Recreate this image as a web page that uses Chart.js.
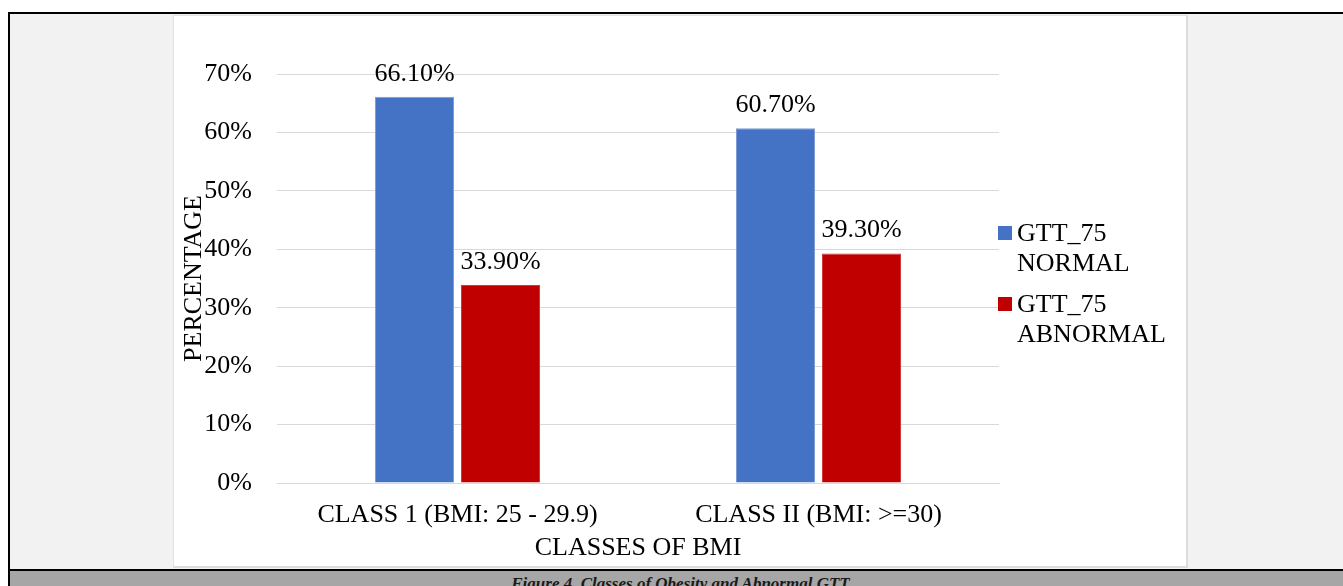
<!DOCTYPE html>
<html>
<head>
<meta charset="utf-8">
<script src="https://cdn.jsdelivr.net/npm/chart.js@4.4.0/dist/chart.umd.min.js"></script>
<style>
  html, body { margin: 0; padding: 0; background: #ffffff; }
  body { width: 1343px; height: 586px; position: relative; overflow: hidden; }
  .frame { position: absolute; left: 8px; top: 12px; right: 0; bottom: 0;
           border-left: 2px solid #000; border-top: 2px solid #000; background: #f2f2f2; }
  .rule { position: absolute; left: 8px; right: 0; top: 569px; height: 2px; background: #000; }
  .band { position: absolute; left: 10px; right: 0; top: 571px; bottom: 0; background: #a6a6a6; }
  .caption { position: absolute; left: 173px; width: 1015px; top: 574px; line-height: 17px;
             text-align: center; font: italic bold 17px "Liberation Serif", serif; color: #1a1a1a;
             white-space: nowrap; }
  .box { position: absolute; left: 173px; top: 15px; width: 1012px; height: 550px; background: #fff;
         border-left: 1px solid #e2e2e2; border-top: 1px solid #e2e2e2;
         border-right: 2px solid #dcdcdc; border-bottom: 2px solid #dcdcdc; }
  #chart { position: absolute; left: 175px; top: 16px; }
</style>
</head>
<body>
<div class="frame"></div>
<div class="rule"></div>
<div class="band"></div>
<div class="caption">Figure 4. Classes of Obesity and Abnormal GTT</div>
<div class="box"></div>
<canvas id="chart" width="1011" height="549"></canvas>
<script>
// BMI classes and the share of each GTT_75 outcome (percent)
const categories = ['CLASS 1 (BMI: 25 - 29.9)', 'CLASS II (BMI: >=30)'];
const normalLabel = ['GTT_75', 'NORMAL'];
const abnormalLabel = ['GTT_75', 'ABNORMAL'];
const normalValues = [66.1, 60.7];
const abnormalValues = [33.9, 39.3];
const yTicks = [0, 10, 20, 30, 40, 50, 60, 70];

const FONT = '"Liberation Serif", "Times New Roman", serif';
const TEXT = '#000000';

// Value labels above each bar
const valueLabels = {
  id: 'valueLabels',
  afterDatasetsDraw(chart) {
    const ctx = chart.ctx;
    ctx.save();
    ctx.font = '26px ' + FONT;
    ctx.fillStyle = TEXT;
    ctx.textAlign = 'center';
    ctx.textBaseline = 'alphabetic';
    chart.data.datasets.forEach((ds, i) => {
      chart.getDatasetMeta(i).data.forEach((bar, j) => {
        ctx.fillText(ds.data[j].toFixed(2) + '%', bar.x, bar.y - 16);
      });
    });
    ctx.restore();
  }
};

// Two-line legend on the right of the plot
const sideLegend = {
  id: 'sideLegend',
  afterDraw(chart) {
    const ctx = chart.ctx;
    const area = chart.chartArea;
    ctx.save();
    ctx.font = '26px ' + FONT;
    ctx.textAlign = 'left';
    ctx.textBaseline = 'alphabetic';
    const x0 = area.right - 1;
    let top = 210;
    chart.data.datasets.forEach(ds => {
      ctx.fillStyle = ds.backgroundColor;
      ctx.fillRect(x0, top, 14, 14);
      ctx.fillStyle = TEXT;
      ds.label.forEach((line, k) => {
        ctx.fillText(line, x0 + 19, top + 15 + k * 30);
      });
      top += 71;
    });
    ctx.restore();
  }
};

new Chart(document.getElementById('chart'), {
  type: 'bar',
  data: {
    labels: categories,
    datasets: [
      { label: normalLabel, data: normalValues, backgroundColor: '#4472c4',
        borderColor: '#7f9cd6', borderWidth: 1,
        categoryPercentage: 0.4765, barPercentage: 0.9186 },
      { label: abnormalLabel, data: abnormalValues, backgroundColor: '#c00000',
        borderColor: '#cc3b3b', borderWidth: 1,
        categoryPercentage: 0.4765, barPercentage: 0.9186 }
    ]
  },
  options: {
    responsive: false,
    animation: false,
    layout: { padding: { left: 0, top: 58, right: 187, bottom: 0 } },
    plugins: { legend: { display: false }, tooltip: { enabled: false } },
    scales: {
      x: {
        grid: { display: false, drawTicks: false },
        border: { display: true, color: '#d9d9d9', width: 1 },
        ticks: { color: TEXT, font: { family: FONT, size: 26 }, padding: 17, maxRotation: 0, autoSkip: false },
        title: { display: true, text: 'CLASSES OF BMI', color: TEXT,
                 font: { family: FONT, size: 26 }, padding: { top: 0, bottom: 1 } },
        afterFit(scale) { scale.height = 82; }
      },
      y: {
        min: 0, max: 70,
        afterBuildTicks(scale) { scale.ticks = yTicks.map(v => ({ value: v })); },
        grid: { color: '#d9d9d9', lineWidth: 1, drawTicks: false },
        border: { display: false },
        ticks: { color: TEXT, font: { family: FONT, size: 26 }, padding: 25,
                 callback: v => v + '%' },
        title: { display: true, text: 'PERCENTAGE', color: TEXT,
                 font: { family: FONT, size: 26 }, padding: { top: 4, bottom: 0 } },
        afterFit(scale) { scale.width = 102; }
      }
    }
  },
  plugins: [valueLabels, sideLegend]
});
</script>
</body>
</html>
